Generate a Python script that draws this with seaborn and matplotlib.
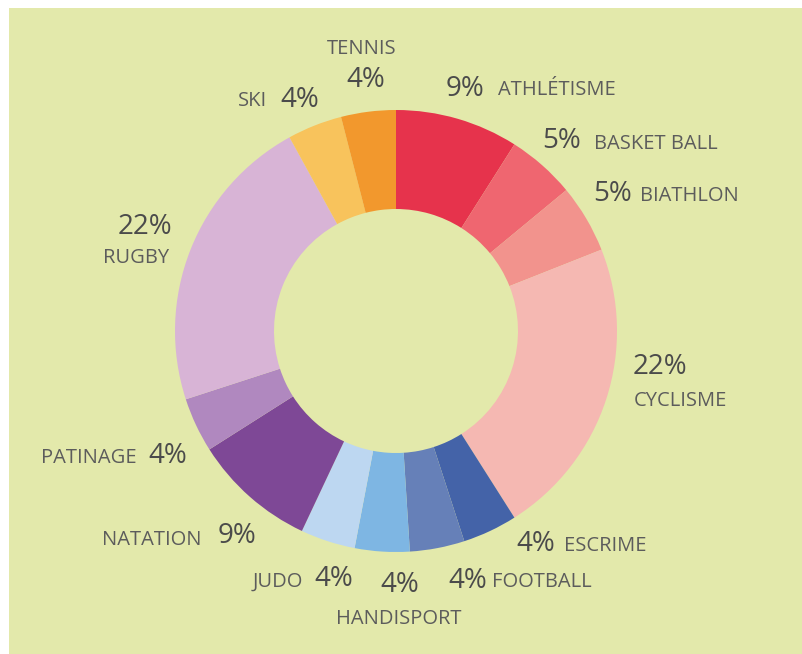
import matplotlib
matplotlib.use("Agg")
import matplotlib.pyplot as plt
from matplotlib.patches import Rectangle
import seaborn as sns

sports = ["ATHLÉTISME", "BASKET BALL", "BIATHLON", "CYCLISME", "ESCRIME", "FOOTBALL",
          "HANDISPORT", "JUDO", "NATATION", "PATINAGE", "RUGBY", "SKI", "TENNIS"]
shares = [9, 5, 5, 22, 4, 4, 4, 4, 9, 4, 22, 4, 4]
colors = ["#e6334c", "#ef6670", "#f2938d", "#f5b8b2", "#4463a8", "#6680b8",
          "#7eb6e3", "#bdd7f1", "#7e4896", "#b088bf", "#d8b4d6", "#f8c35c", "#f2982d"]

sns.set_style("white")
plt.rcParams["font.family"] = ["Open Sans", "DejaVu Sans"]

W, H = 803, 654
BG = "#e3e9ab"
fig = plt.figure(figsize=(W / 100, H / 100), dpi=100)
fig.patch.set_facecolor("white")
ax = fig.add_axes([0, 0, 1, 1])
ax.set_facecolor("white")
ax.add_patch(Rectangle((9, 0), W - 9, H - 8, facecolor=BG, edgecolor="none", zorder=0))

cx, cy, R = 396, H - 331, 221
ax.pie(shares, colors=colors, startangle=90, counterclock=False,
       center=(cx, cy), radius=R, wedgeprops=dict(width=R - 122, linewidth=0),
       frame=True)
ax.set_xlim(0, W)
ax.set_ylim(0, H)
ax.set_aspect("equal")
ax.axis("off")

LC = "#5c5c5c"
PC = "#4b4b4b"
LS = 14.5
PS = 20

# (pct x, pct y, pct ha, label x, label y, label ha) in pixel coordinates
layout = {
    "ATHLÉTISME": (446, 89, "left", 498, 90, "left"),
    "BASKET BALL": (542, 141, "left", 594, 144, "left"),
    "BIATHLON": (593, 194, "left", 640, 196, "left"),
    "CYCLISME": (633, 367, "left", 634, 401, "left"),
    "ESCRIME": (516, 544, "left", 564, 546, "left"),
    "FOOTBALL": (448, 581, "left", 492, 582, "left"),
    "HANDISPORT": (400, 585, "center", 399, 619, "center"),
    "JUDO": (314, 579, "left", 303, 582, "right"),
    "NATATION": (218, 536, "left", 202, 540, "right"),
    "PATINAGE": (148, 456, "left", 137, 458, "right"),
    "RUGBY": (145, 227, "center", 136, 258, "center"),
    "SKI": (280, 100, "left", 267, 101, "right"),
    "TENNIS": (366, 80, "center", 362, 49, "center"),
}

for name, val in zip(sports, shares):
    px, py, pha, lx, ly, lha = layout[name]
    ax.text(px, H - py, f"{val}%", fontsize=PS, color=PC, ha=pha, va="center")
    ax.text(lx, H - ly, name, fontsize=LS, color=LC, ha=lha, va="center")

fig.savefig("out.png", dpi=100, facecolor=fig.get_facecolor())
